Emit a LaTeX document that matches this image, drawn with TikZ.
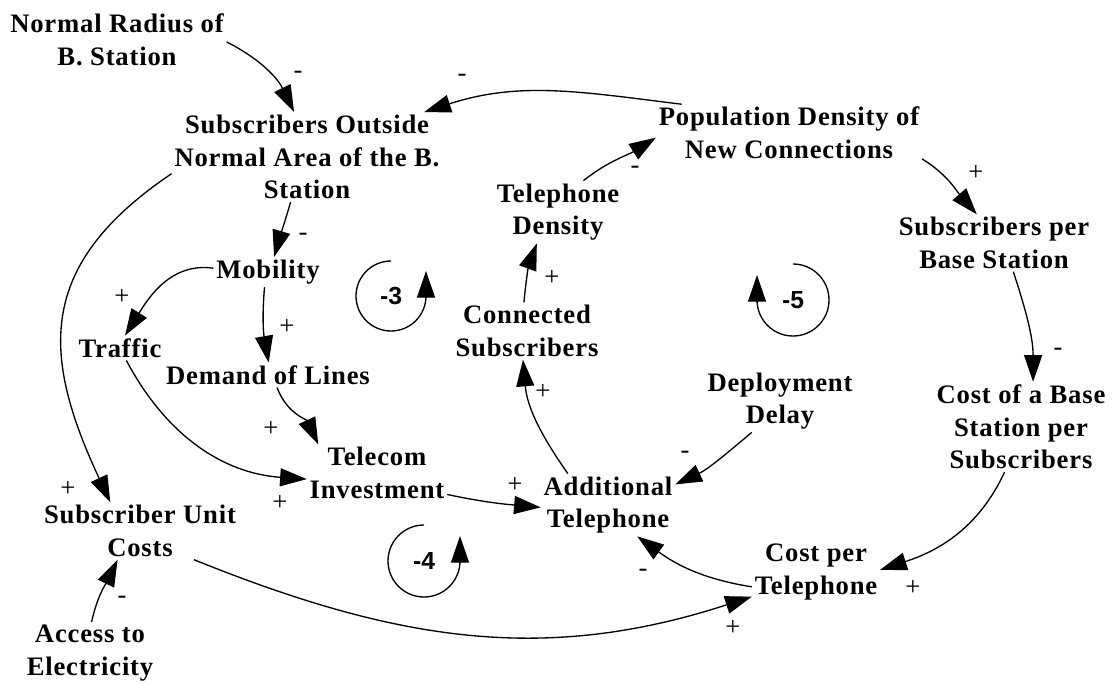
\documentclass[tikz,border=0pt]{standalone}
\usepackage{fontspec}
\setmainfont{Liberation Serif}[LetterSpace=3]
\setsansfont{Liberation Sans}
\usetikzlibrary{arrows.meta}

\begin{document}
\begin{tikzpicture}[x=0.75pt, y=0.75pt,
	 var/.style={align=center, inner sep=2pt,
	             font=\fontsize{20}{24.5}\selectfont\bfseries},
	 sgn/.style={inner sep=0pt, font=\fontsize{20}{24}\selectfont},
	 loopno/.style={inner sep=0pt, font=\fontsize{18.5}{22}\selectfont\sffamily\bfseries},
	 link/.style={line width=1pt, -{Triangle[length=20pt, width=13.5pt]}}]
	\useasboundingbox (0,0) rectangle (1116,-684);

	\node[var] (nrad)  at (117,-40)  {Normal Radius of\\B. Station};
	\node[var] (sout)  at (307,-157) {Subscribers Outside\\Normal Area of the B.\\Station};
	\node[var] (popd)  at (789,-133) {Population Density of\\New Connections};
	\node[var] (teld)  at (558,-212) {Telephone\\Density};
	\node[var] (subbs) at (994,-243) {Subscribers per\\Base Station};
	\node[var] (mob)   at (268,-272) {Mobility};
	\node[var] (traf)  at (120,-348) {Traffic};
	\node[var] (dem)   at (268,-375) {Demand of Lines};
	\node[var] (conn)  at (527,-331) {Connected\\Subscribers};
	\node[var] (depl)  at (780,-401) {Deployment\\Delay};
	\node[var] (cbs)   at (1021,-427) {Cost of a Base\\Station per\\Subscribers};
	\node[var] (tinv)  at (377,-473) {Telecom\\Investment};
	\node[var] (addt)  at (608,-505) {Additional\\Telephone};
	\node[var] (suc)   at (140,-531) {Subscriber Unit\\Costs};
	\node[var] (cpt)   at (816,-572) {Cost per\\Telephone};
	\node[var] (acc)   at (90,-653)  {Access to\\Electricity};

	% causal links
	\draw[link] (nrad.-1)   to[out=-27, in=116] (sout.106);
	\draw[link] (popd.165)  to[out=173, in=18]  (sout.21);
	\draw[link] (teld.51)   to[out=38, in=212]  (popd.182);
	\draw[link] (conn.96)   to[out=85, in=250]  (teld.236);
	\draw[link] (addt.142)  to[out=125, in=-85] (conn.-98);
	\draw[link] (depl.228)  to[out=220, in=25]  (addt.17);
	\draw[link] (tinv.-17)  to[out=-12, in=175] (addt.182);
	\draw[link] (cpt.193)   to[out=171, in=-36] (addt.-47);
	\draw[link] (cbs.250)   to[out=245, in=18]  (cpt.2);
	\draw[link] (suc.-28)   to[out=-22, in=198] (cpt.201);
	\draw[link] (acc.87)    to[out=78, in=244]  (suc.232);
	\draw[link] (sout.187)  to[out=214, in=115, looseness=1.25] (suc.136);
	\draw[link] (traf.-63)  to[out=-62, in=176] (tinv.185);
	\draw[link] (mob.176)   to[out=172, in=58]  (traf.68);
	\draw[link] (mob.-103)  to[out=-95, in=100] (dem.87);
	\draw[link] (sout.-110) to[out=-106, in=74] (mob.68);
	\draw[link] (dem.-54)   to[out=-70, in=115] (tinv.154);
	\draw[link] (subbs.-56) to[out=-72, in=90]  (cbs.75);
	\draw[link] (popd.-11)  to[out=-32, in=131] (subbs.121);

	% polarities
	\node[sgn] (s-nrad-sout)  at (298,-75)  {-};
	\node[sgn] (s-popd-sout)  at (462,-78)  {-};
	\node[sgn] (s-teld-popd)  at (635,-170) {-};
	\node[sgn] (s-conn-teld)  at (552,-278) {+};
	\node[sgn] (s-addt-conn)  at (543,-392) {+};
	\node[sgn] (s-depl-addt)  at (685,-455) {-};
	\node[sgn] (s-tinv-addt)  at (515,-485) {+};
	\node[sgn] (s-cpt-addt)   at (643,-573) {-};
	\node[sgn] (s-cbs-cpt)    at (913,-588) {+};
	\node[sgn] (s-suc-cpt)    at (733,-628) {+};
	\node[sgn] (s-acc-suc)    at (122,-600) {-};
	\node[sgn] (s-sout-suc)   at (68,-489)  {+};
	\node[sgn] (s-traf-tinv)  at (280,-503) {+};
	\node[sgn] (s-mob-traf)   at (122,-297) {+};
	\node[sgn] (s-mob-dem)    at (287,-327) {+};
	\node[sgn] (s-sout-mob)   at (303,-237) {-};
	\node[sgn] (s-dem-tinv)   at (271,-429) {+};
	\node[sgn] (s-subbs-cbs)  at (1058,-352) {-};
	\node[sgn] (s-popd-subbs) at (976,-173) {+};

	% loop markers
	\node[loopno] (loop3) at (391,-296) {-3};
	\node[loopno] (loop4) at (424,-561) {-4};
	\node[loopno] (loop5) at (793,-300) {-5};
	\draw[link] (loop3.center) ++(0,35) arc[start angle=90, end angle=360, radius=35] -- ++(0,25);
	\draw[link] (loop4.center) ++(0,36) arc[start angle=90, end angle=360, radius=36] -- ++(0,25);
	\draw[link] (loop5.center) ++(0,36) arc[start angle=90, end angle=-180, radius=36] -- ++(0,25);
\end{tikzpicture}
\end{document}
